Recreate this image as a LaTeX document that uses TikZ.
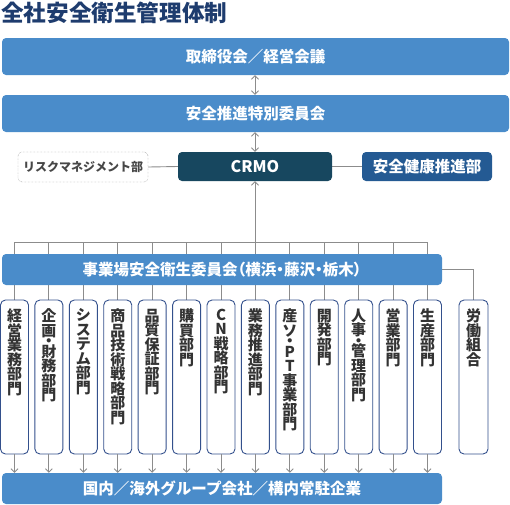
\documentclass[tikz,border=0pt]{standalone}
\usepackage{fontspec}
\setmainfont{Noto Sans CJK JP}
\usetikzlibrary{arrows.meta,calc}
\pgfdeclarelayer{bg}\pgfsetlayers{bg,main}
\definecolor{boxblue}{HTML}{4A8CCA}
\definecolor{crmoc}{HTML}{17475F}
\definecolor{healthc}{HTML}{245A93}
\definecolor{deptb}{HTML}{33508C}
\definecolor{linec}{HTML}{8C8C8C}
\definecolor{titlec}{HTML}{1E3C6E}
\definecolor{textg}{HTML}{333333}
\tikzset{
  bigbox/.style={fill=boxblue, rounded corners=4pt, text=white, inner sep=0pt,
    font=\fontsize{15.5}{18}\selectfont\bfseries},
  darkbox/.style={fill=#1, rounded corners=4pt, text=white, inner sep=0pt,
    font=\fontsize{15.5}{18}\selectfont\bfseries},
  dotbox/.style={draw=gray!80!black, densely dotted, rounded corners=4pt, fill=white,
    text=textg!90!white, inner sep=0pt, font=\fontsize{12}{14}\selectfont\bfseries},
  deptbox/.style={draw=deptb, line width=0.9pt, fill=white, rounded corners=5pt,
    minimum width=28pt, minimum height=154pt, inner sep=0pt},
  vtext/.style={anchor=north, align=center, inner sep=0pt, text=textg,
    font=\fontsize{15}{14.5}\selectfont\bfseries},
  conn/.style={draw=linec, line width=0.9pt},
  tip/.style={-{Straight Barb[length=3.5pt,width=7pt]}},
  dtip/.style={{Straight Barb[length=3.5pt,width=7pt]}-{Straight Barb[length=3.5pt,width=7pt]}},
}
\newcommand{\jdot}{\\[-4pt]・\\[-4pt]}
\begin{document}
\begin{tikzpicture}[x=1pt,y=-1pt]
\useasboundingbox (0,0) rectangle (510,504);
% title
\node[anchor=west, inner sep=0pt, text=titlec, font=\fontsize{22.6}{26}\selectfont\bfseries] (title) at (1,13) {全社安全衛生管理体制};
% top boxes
\node[bigbox, minimum width=507pt, minimum height=37pt] (b1) at (255.5,56.5) {取締役会／経営会議};
\node[bigbox, minimum width=507pt, minimum height=37pt] (b2) at (255.5,113.5) {安全推進特別委員会};
\node[darkbox=crmoc, minimum width=154pt, minimum height=29pt, font=\fontsize{16}{18}\selectfont\bfseries] (crmo) at (255,166.5) {CRMO};
\node[dotbox, minimum width=130pt, minimum height=30pt] (rm) at (83,167) {リスクマネジメント部};
\node[darkbox=healthc, minimum width=130pt, minimum height=29pt] (hp) at (427,166.5) {安全健康推進部};
% committee and bottom
\node[bigbox, minimum width=440pt, minimum height=31pt, font=\fontsize{15.5}{18}\selectfont\bfseries\addfontfeatures{RawFeature=+palt}] (com) at (222,269.5) {事業場安全衛生委員会（横浜・藤沢・栃木）};
\node[bigbox, minimum width=440pt, minimum height=31pt] (bot) at (222,488.5) {国内／海外グループ会社／構内常駐企業};
% departments
\foreach \i/\t in {1/{経\\営\\業\\務\\部\\門},
                   2/{企\\画\jdot 財\\務\\部\\門},
                   3/{シ\\ス\\テ\\ム\\部\\門},
                   4/{商\\品\\技\\術\\戦\\略\\部\\門},
                   5/{品\\質\\保\\証\\部\\門},
                   6/{購\\買\\部\\門},
                   7/{C\\N\\戦\\略\\部\\門},
                   8/{業\\務\\推\\進\\部\\門},
                   9/{産\\ソ\jdot P\\T\\事\\業\\部\\門},
                   10/{開\\発\\部\\門},
                   11/{人\\事\jdot 管\\理\\部\\門},
                   12/{営\\業\\部\\門},
                   13/{生\\産\\部\\門}}{
  \node[deptbox] (d\i) at ({14.5+34.42*(\i-1)},377) {};
  \node[vtext] (t\i) at ($(d\i.north)+(0,9)$) {\t};
}
\node[deptbox, minimum width=29pt] (un) at (473.5,377) {};
\node[vtext] (tun) at ($(un.north)+(0,9)$) {労\\働\\組\\合};
\coordinate (bus) at (0,242);
% connectors
\begin{pgfonlayer}{bg}
  \draw[conn] (rm.east) -- (crmo.west);
  \draw[conn] (crmo.east) -- (hp.west);
  \draw[conn] (d1.north |- bus) -- (d13.north |- bus);
  \foreach \i in {1,...,13}{
    \draw[conn] (d\i.north |- bus) -- (d\i.north);
  }
  \draw[conn] (com.east) -- (com.east -| un.north) -- (un.north);
\end{pgfonlayer}
\draw[conn, dtip] (b1.south -| crmo.north) -- (b2.north -| crmo.north);
\draw[conn, dtip] (b2.south -| crmo.north) -- (crmo.north);
\draw[conn, tip] (crmo.south |- bus) -- (crmo.south);
\foreach \i in {1,...,13}{
  \draw[conn, tip] (d\i.south) -- (d\i.south |- bot.north);
}
\end{tikzpicture}
\end{document}
